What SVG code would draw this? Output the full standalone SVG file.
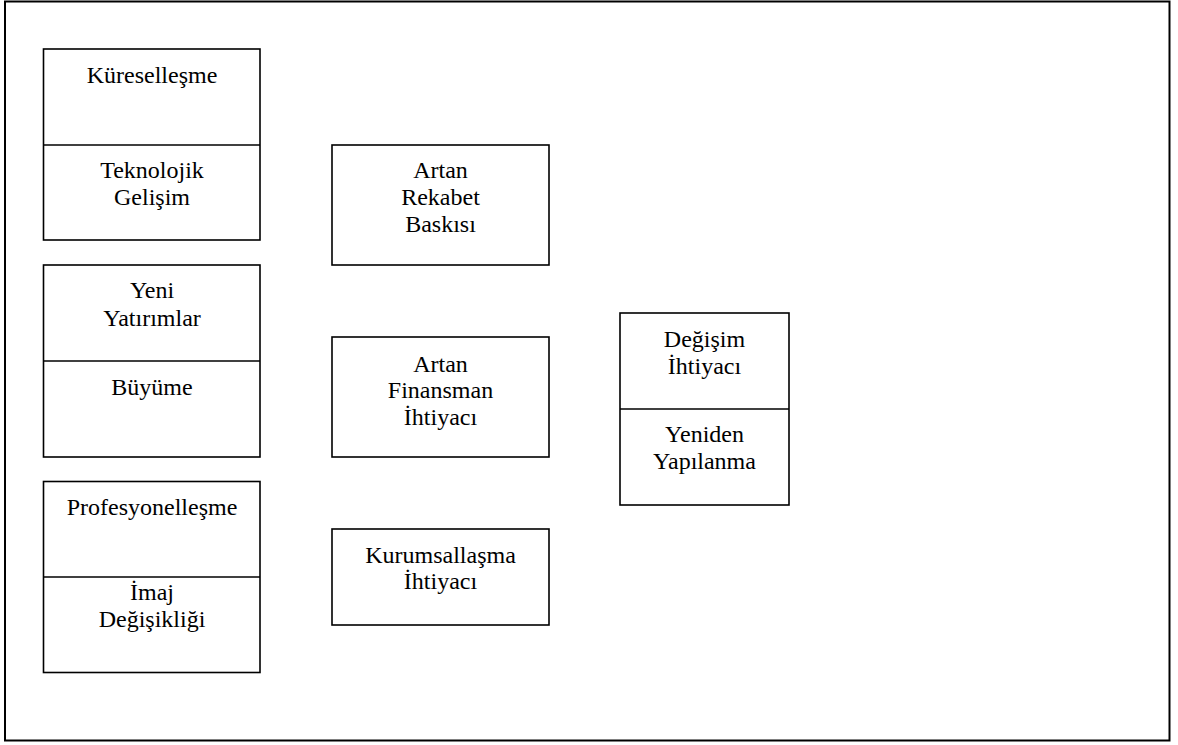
<svg xmlns="http://www.w3.org/2000/svg" width="1178" height="745" viewBox="0 0 1178 745">
  <style>
    .frame { fill: none; stroke: #000; stroke-width: 2; }
    .box { fill: #fff; stroke: #000; stroke-width: 1.6; }
    .div { stroke: #000; stroke-width: 1.6; }
    text { font-family: "Liberation Serif", "Times New Roman", serif; font-size: 24px; fill: #000; text-anchor: middle; }
  </style>
  <rect width="1178" height="745" fill="#fff"/>
  <rect class="frame" x="5" y="1.5" width="1164.5" height="739"/>

  <!-- left column -->
  <g id="kuresellesme-teknoloji">
    <rect class="box" x="43.5" y="49" width="216.5" height="191"/>
    <line class="div" x1="43.5" y1="145" x2="260" y2="145"/>
    <text x="152" y="83">Küreselleşme</text>
    <text x="152" y="178">Teknolojik</text>
    <text x="152" y="205">Gelişim</text>
  </g>
  <g id="yatirim-buyume">
    <rect class="box" x="43.5" y="265" width="216.5" height="192"/>
    <line class="div" x1="43.5" y1="361" x2="260" y2="361"/>
    <text x="152" y="298">Yeni</text>
    <text x="152" y="326">Yatırımlar</text>
    <text x="152" y="395">Büyüme</text>
  </g>
  <g id="profesyonellesme-imaj">
    <rect class="box" x="43.5" y="481.5" width="216.5" height="191"/>
    <line class="div" x1="43.5" y1="577" x2="260" y2="577"/>
    <text x="152" y="515">Profesyonelleşme</text>
    <text x="152" y="600">İmaj</text>
    <text x="152" y="627">Değişikliği</text>
  </g>

  <!-- middle column -->
  <g id="rekabet">
    <rect class="box" x="332" y="145" width="217" height="120"/>
    <text x="440.5" y="178">Artan</text>
    <text x="440.5" y="205">Rekabet</text>
    <text x="440.5" y="232">Baskısı</text>
  </g>
  <g id="finansman">
    <rect class="box" x="332" y="337" width="217" height="120"/>
    <text x="440.5" y="371.5">Artan</text>
    <text x="440.5" y="398">Finansman</text>
    <text x="440.5" y="424.5">İhtiyacı</text>
  </g>
  <g id="kurumsallasma">
    <rect class="box" x="332" y="529" width="217" height="96"/>
    <text x="440.5" y="562.5">Kurumsallaşma</text>
    <text x="440.5" y="588.5">İhtiyacı</text>
  </g>

  <!-- right column -->
  <g id="degisim-yapilanma">
    <rect class="box" x="620" y="313" width="169" height="192"/>
    <line class="div" x1="620" y1="409" x2="789" y2="409"/>
    <text x="704.5" y="346.5">Değişim</text>
    <text x="704.5" y="374">İhtiyacı</text>
    <text x="704.5" y="441.5">Yeniden</text>
    <text x="704.5" y="468.5">Yapılanma</text>
  </g>

  <g id="connectors"/>
</svg>
